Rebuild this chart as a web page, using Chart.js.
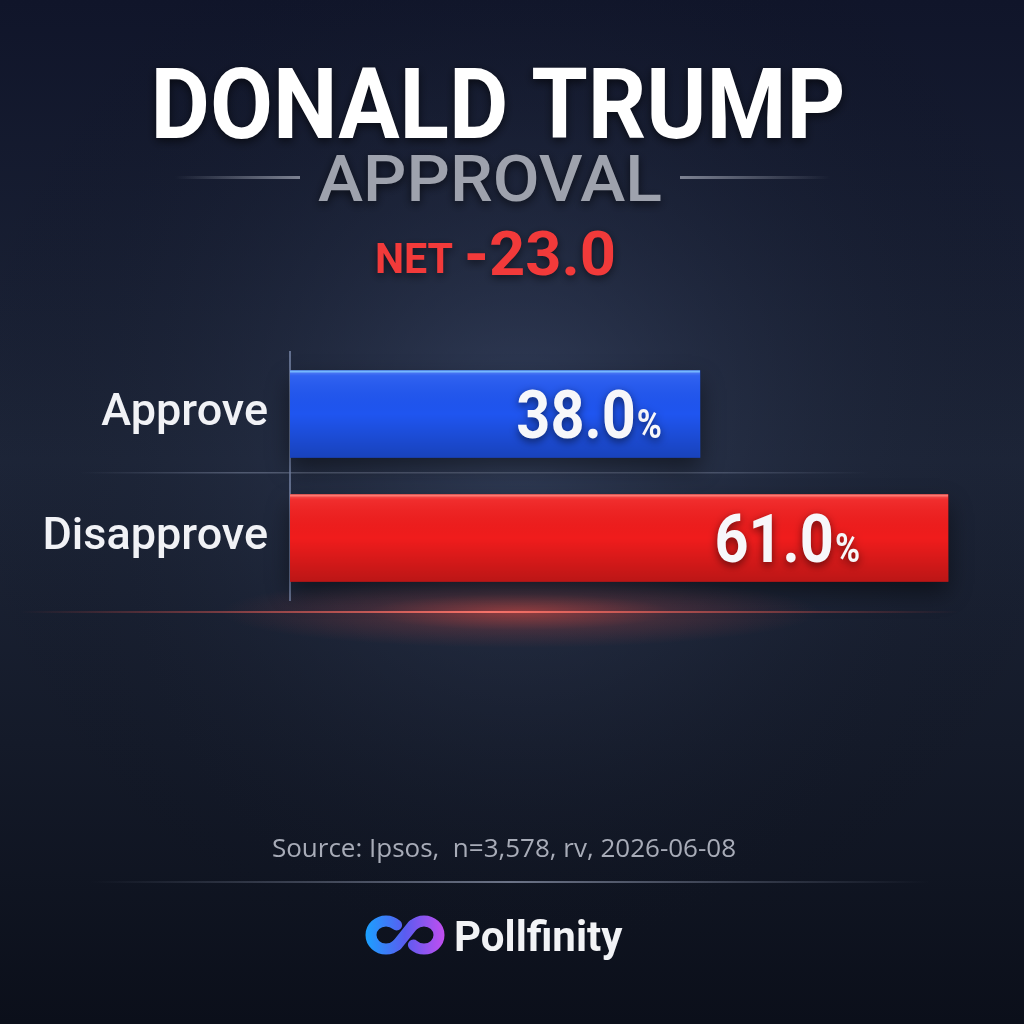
<!DOCTYPE html>
<html>
<head>
<meta charset="utf-8">
<title>Donald Trump Approval</title>
<script src="https://cdn.jsdelivr.net/npm/chart.js@4.4.1/dist/chart.umd.min.js"></script>
<style>
  html, body { margin: 0; padding: 0; background: #101522; }
  #wrap { width: 1024px; height: 1024px; }
</style>
</head>
<body>
<div id="wrap"><canvas id="approvalChart" width="1024" height="1024"></canvas></div>
<script>
// chart data
const categories = ['Approve', 'Disapprove'];
const values = [38.0, 61.0];
const netValue = -23.0;
const titleLine1 = 'DONALD TRUMP';
const titleLine2 = 'APPROVAL';
const sourceText = 'Source: Ipsos,  n=3,578, rv, 2026-06-08';
const brandName = 'Pollfinity';

const barColors = ['#1f55f0', '#f01c1c'];

// draw text squeezed to a target width (centered on cx)
function fitText(ctx, text, cx, y, font, maxW) {
    ctx.font = font;
    const w = ctx.measureText(text).width;
    const s = maxW / w;
    ctx.save();
    ctx.translate(cx, y);
    ctx.scale(s, 1);
    ctx.fillText(text, 0, 0);
    ctx.restore();
    return w * s;
}

const backdrop = {
    id: 'backdrop',
    beforeDraw(chart) {
        const ctx = chart.ctx;
        const W = chart.width, H = chart.height;
        ctx.save();
        // base background
        let g = ctx.createLinearGradient(0, 0, 0, H);
        g.addColorStop(0, '#10152a');
        g.addColorStop(0.45, '#1d2538');
        g.addColorStop(1, '#0b0f1a');
        ctx.fillStyle = g;
        ctx.fillRect(0, 0, W, H);
        let r = ctx.createRadialGradient(520, 430, 40, 520, 430, 560);
        r.addColorStop(0, 'rgba(70,85,120,0.45)');
        r.addColorStop(1, 'rgba(10,14,24,0)');
        ctx.fillStyle = r;
        ctx.fillRect(0, 0, W, H);

        // title
        ctx.textAlign = 'center';
        ctx.textBaseline = 'alphabetic';
        g = ctx.createLinearGradient(0, 66, 0, 140);
        g.addColorStop(0, '#ffffff');
        g.addColorStop(1, '#b4b8c1');
        ctx.fillStyle = g;
        ctx.shadowColor = 'rgba(0,0,0,0.6)';
        ctx.shadowBlur = 10;
        ctx.shadowOffsetY = 3;
        fitText(ctx, titleLine1, 498, 138, '700 98px Roboto', 695);

        ctx.fillStyle = '#9ea2ad';
        fitText(ctx, titleLine2, 490, 201, '500 64px Roboto', 344);
        ctx.shadowColor = 'transparent';
        // side rules around APPROVAL
        [[175, 300], [680, 830]].forEach(([a, b]) => {
            const lg = ctx.createLinearGradient(a, 0, b, 0);
            const inner = a < 490;
            lg.addColorStop(0, inner ? 'rgba(150,155,170,0)' : 'rgba(150,155,170,0.8)');
            lg.addColorStop(1, inner ? 'rgba(150,155,170,0.8)' : 'rgba(150,155,170,0)');
            ctx.fillStyle = lg;
            ctx.fillRect(a, 176, b - a, 3);
        });

        // net value
        ctx.fillStyle = '#f23a3a';
        ctx.shadowColor = 'rgba(0,0,0,0.5)';
        ctx.shadowBlur = 8;
        ctx.textAlign = 'left';
        ctx.save();
        ctx.translate(375, 273);
        ctx.scale(0.98, 1);
        ctx.font = '700 42px Roboto';
        ctx.fillText('NET', 0, 0);
        ctx.restore();
        ctx.save();
        ctx.translate(464, 275);
        ctx.font = '700 62px Roboto';
        const nw = ctx.measureText(netValue.toFixed(1)).width;
        ctx.scale(152 / nw, 1);
        ctx.fillText(netValue.toFixed(1), 0, 0);
        ctx.restore();
        ctx.shadowColor = 'transparent';

        // separator between the bars
        const ys = chart.scales.y;
        const mid = (ys.getPixelForValue(0) + ys.getPixelForValue(1)) / 2;
        let lg = ctx.createLinearGradient(80, 0, 870, 0);
        lg.addColorStop(0, 'rgba(120,130,155,0)');
        lg.addColorStop(0.2, 'rgba(120,130,155,0.55)');
        lg.addColorStop(0.8, 'rgba(120,130,155,0.45)');
        lg.addColorStop(1, 'rgba(120,130,155,0)');
        ctx.fillStyle = lg;
        ctx.fillRect(80, mid - 4, 790, 1.5);

        // red glow under the chart
        const gy = chart.chartArea.bottom + 12;
        r = ctx.createRadialGradient(520, gy, 5, 520, gy, 300);
        r.addColorStop(0, 'rgba(255,80,65,0.5)');
        r.addColorStop(0.5, 'rgba(255,80,65,0.15)');
        r.addColorStop(1, 'rgba(255,80,65,0)');
        ctx.save();
        ctx.translate(0, gy);
        ctx.scale(1, 0.12);
        ctx.translate(0, -gy);
        ctx.fillStyle = r;
        ctx.fillRect(0, gy - 320, W, 640);
        ctx.restore();
        lg = ctx.createLinearGradient(20, 0, 960, 0);
        lg.addColorStop(0, 'rgba(255,80,70,0)');
        lg.addColorStop(0.5, 'rgba(255,120,110,0.95)');
        lg.addColorStop(1, 'rgba(255,80,70,0)');
        ctx.fillStyle = lg;
        ctx.fillRect(20, gy - 1, 940, 2);

        // source + footer rule
        ctx.textAlign = 'center';
        ctx.fillStyle = '#a8acb8';
        ctx.font = '400 26px "Open Sans"';
        ctx.fillText(sourceText, 504, 857);
        lg = ctx.createLinearGradient(90, 0, 930, 0);
        lg.addColorStop(0, 'rgba(120,128,150,0)');
        lg.addColorStop(0.5, 'rgba(130,138,160,0.8)');
        lg.addColorStop(1, 'rgba(120,128,150,0)');
        ctx.fillStyle = lg;
        ctx.fillRect(90, 881, 840, 2);

        // brand logo (infinity mark) + name
        ctx.lineWidth = 11;
        ctx.lineCap = 'round';
        const ig = ctx.createLinearGradient(365, 0, 445, 0);
        ig.addColorStop(0, '#1aa2ff');
        ig.addColorStop(0.5, '#5a5cf0');
        ig.addColorStop(1, '#c34ef0');
        ctx.strokeStyle = ig;
        ctx.beginPath();
        ctx.ellipse(386, 935, 15, 14, 0, 0.25 * Math.PI, 1.75 * Math.PI);
        ctx.stroke();
        ctx.beginPath();
        ctx.ellipse(424, 935, 15, 14, 0, 1.25 * Math.PI, 0.75 * Math.PI);
        ctx.stroke();
        ctx.beginPath();
        ctx.moveTo(397, 945);
        ctx.lineTo(413, 925);
        ctx.stroke();
        ctx.fillStyle = '#f2f3f6';
        ctx.textAlign = 'left';
        ctx.font = '700 42px Roboto';
        ctx.fillText(brandName, 454, 951);
        ctx.restore();
    },
    beforeDatasetsDraw(chart) {
        // soft shadow below each bar
        const ctx = chart.ctx;
        ctx.save();
        chart.getDatasetMeta(0).data.forEach(bar => {
            const h = bar.height;
            ctx.shadowColor = 'rgba(0,0,0,0.75)';
            ctx.shadowBlur = 22;
            ctx.shadowOffsetY = 10;
            ctx.fillStyle = 'rgba(0,0,0,0.6)';
            ctx.fillRect(bar.base, bar.y - h / 2, bar.x - bar.base, h);
        });
        ctx.restore();
    },
    afterDatasetsDraw(chart) {
        const ctx = chart.ctx;
        ctx.save();
        chart.getDatasetMeta(0).data.forEach((bar, i) => {
            const h = bar.height;
            const top = bar.y - h / 2;
            // gloss overlay
            const g = ctx.createLinearGradient(0, top, 0, top + h);
            g.addColorStop(0, 'rgba(255,255,255,0.28)');
            g.addColorStop(0.06, 'rgba(255,255,255,0.08)');
            g.addColorStop(0.5, 'rgba(0,0,0,0)');
            g.addColorStop(1, 'rgba(0,0,0,0.22)');
            ctx.fillStyle = g;
            ctx.fillRect(bar.base, top, bar.x - bar.base, h);
            ctx.fillStyle = i === 0 ? 'rgba(120,190,255,0.9)' : 'rgba(255,130,120,0.8)';
            ctx.fillRect(bar.base, top, bar.x - bar.base, 2);

            // value label
            const num = values[i].toFixed(1);
            const right = bar.x - (i === 0 ? 38 : 88);
            ctx.font = '700 40px Roboto';
            const pw = ctx.measureText('%').width;
            ctx.shadowColor = 'rgba(0,0,0,0.55)';
            ctx.shadowBlur = 8;
            ctx.shadowOffsetY = 3;
            ctx.fillStyle = '#f7f7fa';
            ctx.textAlign = 'right';
            ctx.textBaseline = 'alphabetic';
            ctx.save();
            ctx.translate(right, bar.y + 24);
            ctx.scale(0.85, 1);
            ctx.fillText('%', 0, 0);
            ctx.restore();
            ctx.save();
            ctx.translate(right - pw * 0.85 - 1, bar.y + 24);
            ctx.scale(0.9, 1);
            ctx.font = '700 66px Roboto';
            ctx.fillText(num, 0, 0);
            ctx.restore();
            ctx.shadowColor = 'transparent';
        });
        ctx.restore();
    }
};

const ctx = document.getElementById('approvalChart').getContext('2d');
new Chart(ctx, {
    type: 'bar',
    data: {
        labels: categories,
        datasets: [{
            data: values,
            backgroundColor: barColors,
            borderWidth: 0,
            barThickness: 87
        }]
    },
    options: {
        indexAxis: 'y',
        responsive: false,
        animation: false,
        devicePixelRatio: 1,
        layout: { padding: { top: 352, bottom: 424, left: 0, right: 49 } },
        plugins: {
            legend: { display: false },
            tooltip: { enabled: false }
        },
        scales: {
            x: { display: false, min: 0, max: 63.5 },
            y: {
                afterFit(scale) { scale.width = 290; },
                grid: { display: false, drawTicks: false },
                border: { display: true, color: 'rgba(120,135,170,0.75)', width: 2 },
                ticks: {
                    padding: 22,
                    color: '#f1f2f6',
                    font: { family: 'Roboto', size: 45, weight: '500' }
                }
            }
        }
    },
    plugins: [backdrop]
});
</script>
</body>
</html>
